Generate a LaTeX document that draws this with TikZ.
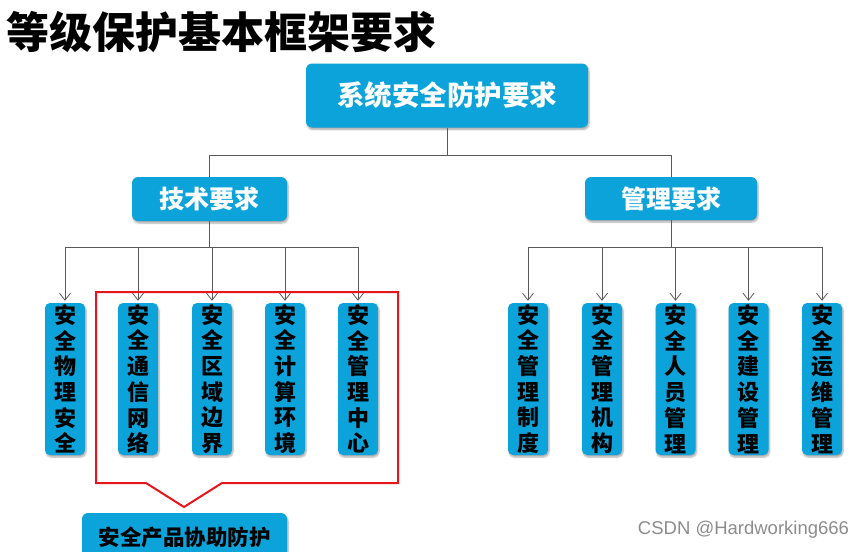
\documentclass[tikz,border=0pt]{standalone}
\usepackage{fontspec}
\newfontfamily\cjk{Noto Sans CJK SC}
\newfontfamily\markfont{Liberation Sans}
\definecolor{boxblue}{HTML}{0BA3D9}
\definecolor{linkgray}{HTML}{5A5A5A}
\definecolor{calloutred}{HTML}{E5161C}
\usetikzlibrary{arrows.meta,shadows.blur}

\tikzset{
  box/.style={fill=boxblue, rounded corners=6pt, inner sep=0pt,
    blur shadow={shadow xshift=1pt, shadow yshift=-2pt, shadow blur steps=6, shadow opacity=35}},
  headbox/.style={box, text=white, font=\cjk\bfseries\fontsize{27.5}{30}\selectfont},
  midbox/.style={box, text=white, font=\cjk\bfseries\fontsize{25}{28}\selectfont},
  leafbox/.style={box, rounded corners=5pt, minimum width=40pt, minimum height=152pt,
    align=center, font=\cjk\bfseries\fontsize{22}{25.7}\selectfont},
  link/.style={draw=linkgray, line width=0.8pt},
  feed/.style={link, -{Straight Barb[length=7pt,width=11pt]}, shorten >=2pt}
}

\begin{document}
\begin{tikzpicture}[x=1pt,y=-1pt]
  \useasboundingbox (0,0) rectangle (866,551);

  % title
  \node[anchor=west,inner sep=0pt,font=\cjk\bfseries\fontsize{43}{46}\selectfont] (title) at (6,32) {等级保护基本框架要求};

  % top level
  \node[headbox,minimum width=282pt,minimum height=64pt] (sys) at (447,95.5) {系统安全防护要求};
  \node[midbox,minimum width=155pt,minimum height=44pt] (tech) at (209.5,199) {技术要求};
  \node[midbox,minimum width=172pt,minimum height=43pt] (mgmt) at (671,198.5) {管理要求};
  \coordinate (topbus) at (447,155);
  \draw[link] (sys.south) -- (topbus) -| (tech.north);
  \draw[link] (topbus) -| (mgmt.north);

  % technical side
  \node[leafbox] (phy) at (65,379) {安\\全\\物\\理\\安\\全};
  \node[leafbox] (net) at (138,379) {安\\全\\通\\信\\网\\络};
  \node[leafbox] (edge) at (212,379) {安\\全\\区\\域\\边\\界};
  \node[leafbox] (comp) at (285,379) {安\\全\\计\\算\\环\\境};
  \node[leafbox] (center) at (358,379) {安\\全\\管\\理\\中\\心};
  \coordinate (techbus) at (209.5,247);
  \draw[link] (tech.south) -- (techbus);
  \draw[feed] (techbus) -| (phy.north);
  \draw[feed] (techbus) -| (net.north);
  \draw[feed] (techbus) -| (edge.north);
  \draw[feed] (techbus) -| (comp.north);
  \draw[feed] (techbus) -| (center.north);

  % management side
  \node[leafbox] (rule) at (528,379) {安\\全\\管\\理\\制\\度};
  \node[leafbox] (org) at (602,379) {安\\全\\管\\理\\机\\构};
  \node[leafbox] (staff) at (675.5,379) {安\\全\\人\\员\\管\\理};
  \node[leafbox] (build) at (748.5,379) {安\\全\\建\\设\\管\\理};
  \node[leafbox] (ops) at (822,379) {安\\全\\运\\维\\管\\理};
  \coordinate (mgmtbus) at (671,247);
  \draw[link] (mgmt.south) -- (mgmtbus);
  \draw[feed] (mgmtbus) -| (rule.north);
  \draw[feed] (mgmtbus) -| (org.north);
  \draw[feed] (mgmtbus) -| (staff.north);
  \draw[feed] (mgmtbus) -| (build.north);
  \draw[feed] (mgmtbus) -| (ops.north);

  % red callout
  \draw[calloutred,line width=2pt,line join=miter]
    (96,292) -- (398,292) -- (398,483) -- (222,483) -- (184,507) -- (146,483) -- (96,483) -- cycle;
  \node[box,minimum width=205pt,minimum height=48pt,font=\cjk\bfseries\fontsize{21.5}{24}\selectfont] (prod) at (184.5,537) {安全产品协助防护};

  % watermark
  \node[text=black!45,inner sep=0pt,font=\markfont\fontsize{18.5}{20}\selectfont] (mark) at (743.5,530) {CSDN @Hardworking666};
\end{tikzpicture}
\end{document}
